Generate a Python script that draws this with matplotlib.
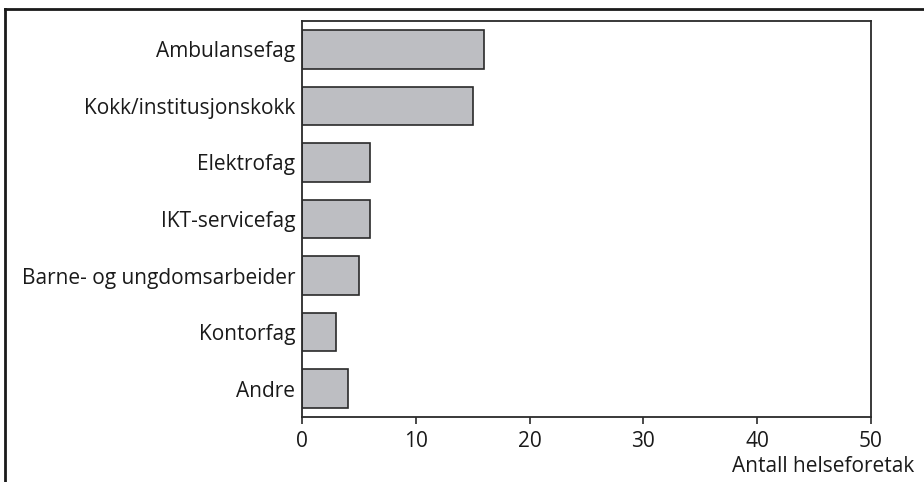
import matplotlib
matplotlib.use("Agg")
import matplotlib.pyplot as plt
from matplotlib.lines import Line2D

plt.rcParams['font.family'] = ['Open Sans', 'DejaVu Sans']

kategorier = ["Ambulansefag", "Kokk/institusjonskokk", "Elektrofag", "IKT-servicefag",
              "Barne- og ungdomsarbeider", "Kontorfag", "Andre"]
antall = [16, 15, 6, 6, 5, 3, 4]
xticks = [0, 10, 20, 30, 40, 50]

W, H = 924, 482
fs = 15
fig = plt.figure(figsize=(W / 100, H / 100), dpi=100)
ax = fig.add_axes([302 / W, 1 - 417 / H, (871 - 302) / W, (417 - 21) / H])

ypos = list(range(len(kategorier)))
ax.barh(ypos, antall, height=0.68, color="#bdbec2", edgecolor="#2a2a2a", linewidth=1.2)
ax.set_ylim(len(kategorier) - 0.5, -0.5)
ax.set_xlim(0, 50)
ax.set_yticks(ypos)
ax.set_yticklabels(kategorier, fontsize=fs, color="#1a1a1a")
ax.set_xticks(xticks)
ax.set_xticklabels([str(v) for v in xticks], fontsize=fs, color="#1a1a1a")
ax.tick_params(axis="y", length=0, pad=5)
ax.tick_params(axis="x", length=5, width=1.2, color="#2a2a2a", pad=5)
for s in ax.spines.values():
    s.set_linewidth(1.3)
    s.set_color("#2a2a2a")

fig.text(914 / W, 1 - 467 / H, "Antall helseforetak", ha="right", va="center",
         fontsize=fs, color="#1a1a1a")

# ytre ramme (beskåret)
fig.add_artist(Line2D([5 / W, 5 / W], [0, 1 - 9 / H], transform=fig.transFigure,
                      color="#1a1a1a", linewidth=2))
fig.add_artist(Line2D([5 / W, 1], [1 - 9 / H, 1 - 9 / H], transform=fig.transFigure,
                      color="#1a1a1a", linewidth=2))

fig.savefig("out.png", dpi=100)
